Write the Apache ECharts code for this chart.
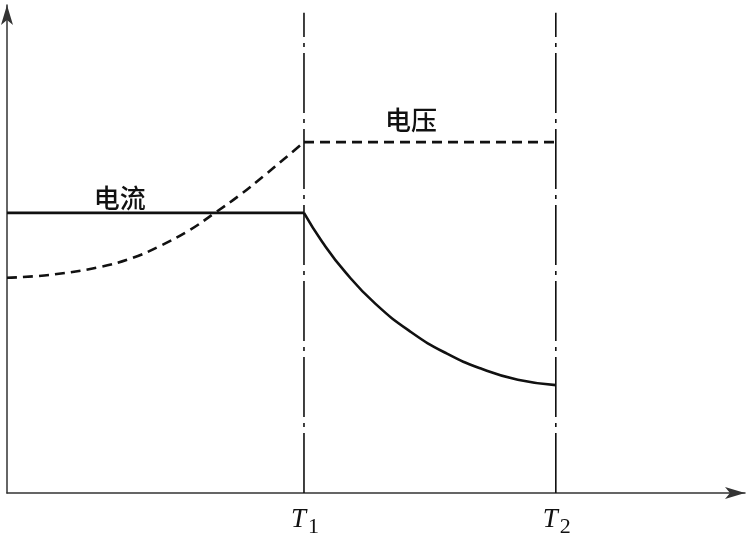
<!DOCTYPE html>
<html><head><meta charset="utf-8">
<script src="https://cdn.jsdelivr.net/npm/echarts@6/dist/echarts.min.js"></script>
<style>html,body{margin:0;padding:0;background:#fff}#c{width:748px;height:533px}</style>
</head><body><div id="c"></div>
<script>
// time in units of T1; value in arbitrary units (0..100)
const T1 = 1.0;
const T2 = 1.848;
const xMax = 2.485;
const yMax = 100;
const markerTop = 98.4;
const timeLabels = [['T', '1'], ['T', '2']];
const currentFlat = [[0, 57.4], [1.0, 57.4]];
const currentDecay = [[1.0, 57.4], [1.06, 51.6], [1.14, 45.2], [1.24, 38.8], [1.36, 33.0], [1.48, 28.6], [1.60, 25.4], [1.72, 23.2], [1.848, 22.1]];
const voltageRise = [[0, 44.1], [0.145, 44.7], [0.313, 46.3], [0.424, 48.2], [0.515, 50.6], [0.616, 53.9], [0.700, 57.4], [0.785, 61.1], [0.869, 65.2], [0.936, 68.6], [1.0, 71.9]];
const voltageFlat = [[1.0, 71.9], [1.848, 71.9]];
const seriesNames = { current: '电流', voltage: '电压' };
const labelPos = { current: [0.380, 60.5], voltage: [1.360, 76.4] };

const chart = echarts.init(document.getElementById('c'), null, { renderer: 'canvas' });
const black = '#111';
const solid = { color: black, width: 2.6, type: 'solid' };
const dashed = { color: black, width: 2.6, type: [10, 6] };
const dashDot = { color: black, width: 1.6, type: [60, 6, 4, 6] };
function line(data, style, smooth) {
  return { type: 'line', data: data, symbol: 'none', smooth: smooth, lineStyle: style, silent: true, animation: false, z: 3 };
}
chart.setOption({
  animation: false,
  grid: { left: 7, top: 5, right: 3, bottom: 40 },
  xAxis: {
    type: 'value', min: 0, max: xMax,
    axisLine: { show: true, onZero: false, symbol: ['none', 'arrow'], symbolSize: [9, 20], lineStyle: { color: '#333', width: 1.5 } },
    axisTick: { show: false }, axisLabel: { show: false }, splitLine: { show: false }
  },
  yAxis: {
    type: 'value', min: 0, max: yMax,
    axisLine: { show: true, onZero: false, symbol: ['none', 'arrow'], symbolSize: [9, 20], lineStyle: { color: '#333', width: 1.5 } },
    axisTick: { show: false }, axisLabel: { show: false }, splitLine: { show: false }
  },
  series: [
    line([[T1, 0], [T1, markerTop]], dashDot, false),
    line([[T2, 0], [T2, markerTop]], dashDot, false),
    line(currentFlat, solid, false),
    line(currentDecay, solid, 0.5),
    line(voltageRise, dashed, 0.4),
    line(voltageFlat, dashed, false)
  ]
});

const g = [];
const cjk = '"Noto Sans CJK SC", sans-serif';
[['current', labelPos.current], ['voltage', labelPos.voltage]].forEach(function (it) {
  const p = chart.convertToPixel({ gridIndex: 0 }, it[1]);
  g.push({ type: 'text', x: p[0], y: p[1], style: { text: seriesNames[it[0]], font: '500 26px ' + cjk, fill: black, align: 'center', verticalAlign: 'middle' } });
});
[T1, T2].forEach(function (t, i) {
  const p = chart.convertToPixel({ gridIndex: 0 }, [t, 0]);
  g.push({ type: 'text', x: p[0] + 2, y: p[1] + 27, style: { text: timeLabels[i][0], font: 'italic 27px "Liberation Serif", serif', fill: black, align: 'right', verticalAlign: 'middle' } });
  g.push({ type: 'text', x: p[0] + 4, y: p[1] + 34, style: { text: timeLabels[i][1], font: '22px "Liberation Serif", serif', fill: black, align: 'left', verticalAlign: 'middle' } });
});
chart.setOption({ graphic: g });
</script>
</body></html>
